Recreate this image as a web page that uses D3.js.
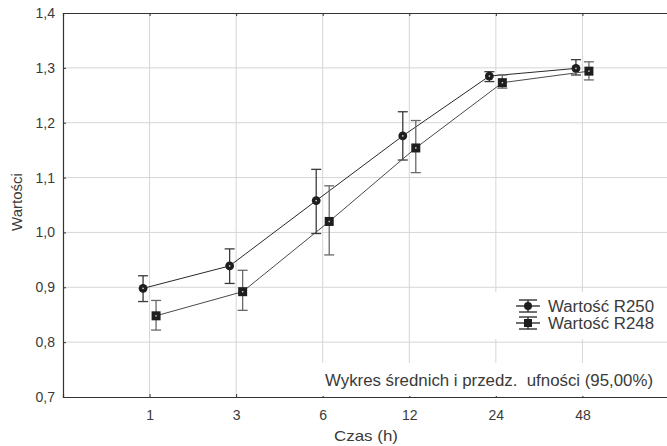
<!DOCTYPE html>
<html lang="pl">
<head>
<meta charset="UTF-8">
<title>Wykres średnich</title>
<script src="https://d3js.org/d3.v7.min.js"></script>
<style>
  body { margin: 0; background: #fff; }
  svg { display: block; font-family: "Liberation Sans", Arial, sans-serif; }
  .tick text { fill: #3a3a3a; font-size: 14px; }
</style>
</head>
<body>
<svg width="667" height="446"></svg>
<script>
// data
const categories = ["1", "3", "6", "12", "24", "48"];
const r250Mean = [0.898, 0.939, 1.058, 1.176, 1.285, 1.299];
const r250Low  = [0.874, 0.907, 0.998, 1.132, 1.275, 1.287];
const r250High = [0.921, 0.970, 1.115, 1.220, 1.293, 1.315];
const r248Mean = [0.848, 0.892, 1.020, 1.154, 1.273, 1.294];
const r248Low  = [0.822, 0.858, 0.959, 1.109, 1.263, 1.278];
const r248High = [0.876, 0.931, 1.085, 1.204, 1.287, 1.311];
const yTicks = [0.7, 0.8, 0.9, 1.0, 1.1, 1.2, 1.3, 1.4];
const seriesNames = ["Wartość R250", "Wartość R248"];

const svg = d3.select("svg");
const pLeft = 63, pRight = 669, pTop = 13, pBottom = 397;

const x = d3.scalePoint().domain(categories).range([pLeft, pRight]).padding(1);
const y = d3.scaleLinear().domain([0.7, 1.4]).range([pBottom, pTop]);
const plFmt = d3.formatLocale({decimal: ",", thousands: " ", grouping: [3], currency: ["", " zł"]}).format(".1f");

// grid
const grid = svg.append("g");
grid.selectAll(".gy").data(yTicks.slice(1, -1)).enter().append("line")
  .attr("x1", pLeft).attr("x2", pRight)
  .attr("y1", d => y(d)).attr("y2", d => y(d))
  .attr("stroke", "#d6d6d6");
grid.selectAll(".gx").data(categories).enter().append("line")
  .attr("x1", d => x(d)).attr("x2", d => x(d))
  .attr("y1", pTop).attr("y2", pBottom)
  .attr("stroke", "#d6d6d6");

// axes
svg.append("g").attr("transform", `translate(0,${pBottom})`)
  .call(d3.axisBottom(x).tickSize(-3).tickPadding(10))
  .call(g => g.selectAll("text").attr("dy", "0.9em"));
svg.append("g").attr("transform", `translate(0,${pTop})`)
  .call(d3.axisTop(x).tickSize(-3).tickFormat(""));
svg.append("g").attr("transform", `translate(${pLeft},0)`)
  .call(d3.axisLeft(y).tickValues(yTicks).tickFormat(plFmt).tickSize(-3).tickPadding(8));
svg.selectAll(".domain").attr("stroke", "#333").attr("stroke-width", 1.2);
svg.selectAll(".tick line").attr("stroke", "#333");

// series
const series = [
  {mean: r250Mean, low: r250Low, high: r250High, dx: -6.5, shape: "circle", line: "#2a2a2a", bar: "#3a3a3a"},
  {mean: r248Mean, low: r248Low, high: r248High, dx: 6.5, shape: "square", line: "#4a4a4a", bar: "#6a6a6a"}
];

series.forEach(s => {
  const pts = categories.map((c, i) => ({x: x(c) + s.dx, m: s.mean[i], lo: s.low[i], hi: s.high[i]}));
  svg.append("path").datum(pts)
    .attr("d", d3.line().x(d => d.x).y(d => y(d.m)))
    .attr("fill", "none").attr("stroke", s.line).attr("stroke-width", 1);
  const eb = svg.append("g").attr("stroke", s.bar).attr("stroke-width", 1.3);
  eb.selectAll(".v").data(pts).enter().append("line")
    .attr("x1", d => d.x).attr("x2", d => d.x)
    .attr("y1", d => y(d.lo)).attr("y2", d => y(d.hi));
  eb.selectAll(".t").data(pts).enter().append("line")
    .attr("x1", d => d.x - 5).attr("x2", d => d.x + 5)
    .attr("y1", d => y(d.hi)).attr("y2", d => y(d.hi));
  eb.selectAll(".b").data(pts).enter().append("line")
    .attr("x1", d => d.x - 5).attr("x2", d => d.x + 5)
    .attr("y1", d => y(d.lo)).attr("y2", d => y(d.lo));
  const mk = svg.append("g");
  if (s.shape === "circle") {
    mk.selectAll("circle").data(pts).enter().append("circle")
      .attr("cx", d => d.x).attr("cy", d => y(d.m)).attr("r", 4.4).attr("fill", "#1e1e1e");
  } else {
    mk.selectAll("rect").data(pts).enter().append("rect")
      .attr("x", d => d.x - 4.5).attr("y", d => y(d.m) - 4.5)
      .attr("width", 9).attr("height", 9).attr("fill", "#1e1e1e");
  }
  mk.selectAll(".dot").data(pts).enter().append("rect")
    .attr("x", d => d.x - 0.7).attr("y", d => y(d.m) - 0.7)
    .attr("width", 1.4).attr("height", 1.4).attr("fill", "#ddd");
});

// legend
svg.append("rect").attr("x", 494).attr("y", 292).attr("width", 174).attr("height", 47).attr("fill", "#fff");
const lg = svg.append("g").attr("transform", "translate(528,306)");
seriesNames.forEach((name, i) => {
  const g = lg.append("g").attr("transform", `translate(0,${i * 17})`);
  g.append("line").attr("x1", -12).attr("x2", 12).attr("stroke", "#222").attr("stroke-width", 1.3);
  g.append("line").attr("x1", -9).attr("x2", 9).attr("y1", -6).attr("y2", -6).attr("stroke", "#222").attr("stroke-width", 1.3);
  g.append("line").attr("x1", -9).attr("x2", 9).attr("y1", 6).attr("y2", 6).attr("stroke", "#222").attr("stroke-width", 1.3);
  g.append("line").attr("y1", -6).attr("y2", 6).attr("stroke", "#222").attr("stroke-width", 1.3);
  if (i === 0) g.append("circle").attr("r", 4).attr("fill", "#1e1e1e");
  else g.append("rect").attr("x", -4).attr("y", -4).attr("width", 8).attr("height", 8).attr("fill", "#1e1e1e");
  g.append("text").attr("x", 20).attr("dy", "0.35em")
    .attr("font-size", 16).attr("fill", "#3a3a3a")
    .attr("textLength", 106).attr("lengthAdjust", "spacingAndGlyphs")
    .text(name);
});

// note
svg.append("rect").attr("x", 318).attr("y", 363).attr("width", 350).attr("height", 33).attr("fill", "#fff");
svg.append("text").attr("x", 325).attr("y", 386)
  .attr("font-size", 16).attr("fill", "#3a3a3a")
  .attr("xml:space", "preserve")
  .attr("textLength", 328).attr("lengthAdjust", "spacingAndGlyphs")
  .text("Wykres średnich i przedz.  ufności (95,00%)");

// axis titles
svg.append("text").attr("transform", "translate(22,202) rotate(-90)")
  .attr("text-anchor", "middle").attr("font-size", 15).attr("fill", "#3a3a3a").text("Wartości");
svg.append("text").attr("x", 366).attr("y", 441)
  .attr("text-anchor", "middle").attr("font-size", 15).attr("fill", "#3a3a3a")
  .attr("textLength", 64).attr("lengthAdjust", "spacingAndGlyphs")
  .text("Czas (h)");
</script>
</body>
</html>
